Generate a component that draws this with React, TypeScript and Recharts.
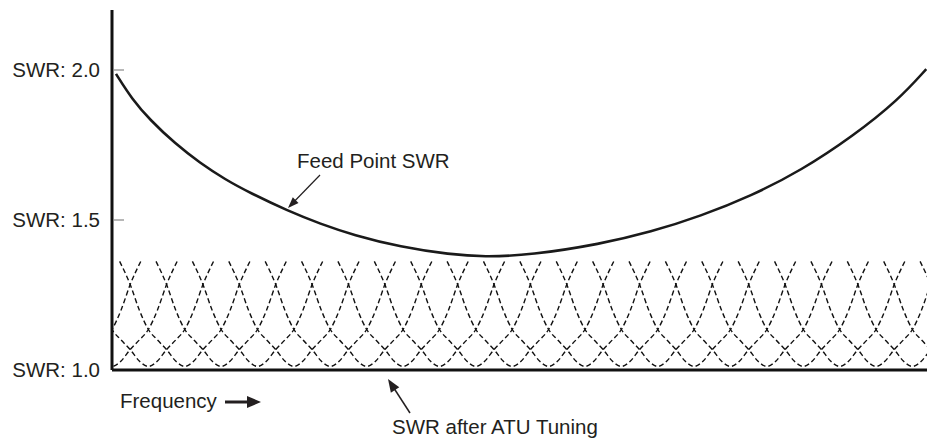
import { LineChart, Line, XAxis, YAxis } from 'recharts'

// frequency in "channel" units (one ATU step = 1)
const feedFreq = [
  0.11, 0.55, 1.05, 1.73, 2.42, 3.11, 3.8, 4.84, 5.73, 6.63, 7.93, 9.3, 10.21,
  11.51, 13.43, 14.81, 16.18, 17.56, 18.94, 20.37, 21.61, 22.38,
]
const feedSwr = [
  1.987, 1.903, 1.833, 1.755, 1.69, 1.635, 1.59, 1.53, 1.487, 1.45, 1.41,
  1.385, 1.377, 1.383, 1.42, 1.46, 1.513, 1.58, 1.665, 1.78, 1.9, 2.003,
]

// one tuned dip (offset from its centre / swr)
const dipOffset = [-1.79, -1.5, -1.25, -1, -0.75, -0.5, -0.25, 0, 0.25, 0.5, 0.75, 1, 1.25, 1.5, 1.79]
const dipSwr = [1.362, 1.285, 1.2, 1.135, 1.1, 1.068, 1.03, 1.012, 1.03, 1.068, 1.1, 1.135, 1.2, 1.285, 1.362]
const dipCentres = [
  -1, 0, 1, 2, 3, 4, 5, 6, 7, 8, 9, 10, 11, 12, 13, 14, 15, 16, 17, 18, 19, 20,
  21, 22, 23, 24,
]

const yTicks = [1.0, 1.5, 2.0]

const feedData = feedFreq.map((f, i) => ({ f, swr: feedSwr[i] }))
const dips = dipCentres.map((c) =>
  dipOffset.map((o, i) => ({ f: c + o, swr: dipSwr[i] }))
)

const FONT = '"Liberation Sans", Arial, Helvetica, sans-serif'
const INK = '#231f20'

function SwrTick(props: any) {
  const { x, y, payload } = props
  return (
    <g>
      <text
        x={x - 12}
        y={y}
        dy="0.36em"
        textAnchor="end"
        fontSize={20.5}
        fontFamily={FONT}
        fill={INK}
      >
        {`SWR: ${payload.value.toFixed(1)}`}
      </text>
      {payload.value > 1 && (
        <line x1={x + 1} x2={x + 12} y1={y} y2={y} stroke="#888" strokeWidth={1.2} />
      )}
    </g>
  )
}

function Arrow({ x1, y1, x2, y2, w = 1.2, len = 10, half = 4 }: any) {
  const dx = x2 - x1
  const dy = y2 - y1
  const d = Math.hypot(dx, dy)
  const ux = dx / d
  const uy = dy / d
  const bx = x2 - ux * len
  const by = y2 - uy * len
  const pts = `${x2},${y2} ${bx - uy * half},${by + ux * half} ${bx + uy * half},${by - ux * half}`
  return (
    <g>
      <line x1={x1} y1={y1} x2={bx + ux * 2} y2={by + uy * 2} stroke={INK} strokeWidth={w} />
      <polygon points={pts} fill={INK} />
    </g>
  )
}

export default function App() {
  return (
    <div style={{ position: 'absolute', left: 0, top: 0, width: 929, height: 439, background: '#fff' }}>
      <LineChart
        width={929}
        height={439}
        margin={{ top: 10, right: 2, bottom: 68, left: 0 }}
      >
        <XAxis
          type="number"
          dataKey="f"
          domain={[0, 22.4]}
          allowDataOverflow
          tick={false}
          tickLine={false}
          height={1}
          axisLine={{ stroke: '#111', strokeWidth: 3 }}
        />
        <YAxis
          type="number"
          domain={[1, 2.2]}
          allowDataOverflow
          ticks={yTicks}
          width={112}
          tickSize={0}
          tickMargin={0}
          tickLine={false}
          tick={<SwrTick />}
          axisLine={{ stroke: '#111', strokeWidth: 3 }}
        />
        {dips.map((d, i) => (
          <Line
            key={i}
            data={d}
            dataKey="swr"
            type="monotone"
            stroke="#111"
            strokeWidth={1.4}
            strokeDasharray="5 3"
            dot={false}
            activeDot={false}
            isAnimationActive={false}
          />
        ))}
        <Line
          data={feedData}
          dataKey="swr"
          type="basis"
          stroke="#1a1a1a"
          strokeWidth={2.6}
          dot={false}
          activeDot={false}
          isAnimationActive={false}
        />
      </LineChart>
      <svg
        width={929}
        height={439}
        style={{ position: 'absolute', left: 0, top: 0, pointerEvents: 'none' }}
      >
        <text x={297} y={168} fontSize={20.5} fontFamily={FONT} fill={INK}>
          Feed Point SWR
        </text>
        <Arrow x1={320} y1={175} x2={288} y2={208} w={1.2} len={11} half={4} />
        <text x={120} y={408} fontSize={20.5} fontFamily={FONT} fill={INK}>
          Frequency
        </text>
        <Arrow x1={225} y1={402} x2={261} y2={402} w={3} len={14} half={6} />
        <Arrow x1={410} y1={413} x2={388} y2={379} w={1.5} len={13} half={5} />
        <text x={392} y={434} fontSize={20.5} fontFamily={FONT} fill={INK}>
          SWR after ATU Tuning
        </text>
      </svg>
    </div>
  )
}
